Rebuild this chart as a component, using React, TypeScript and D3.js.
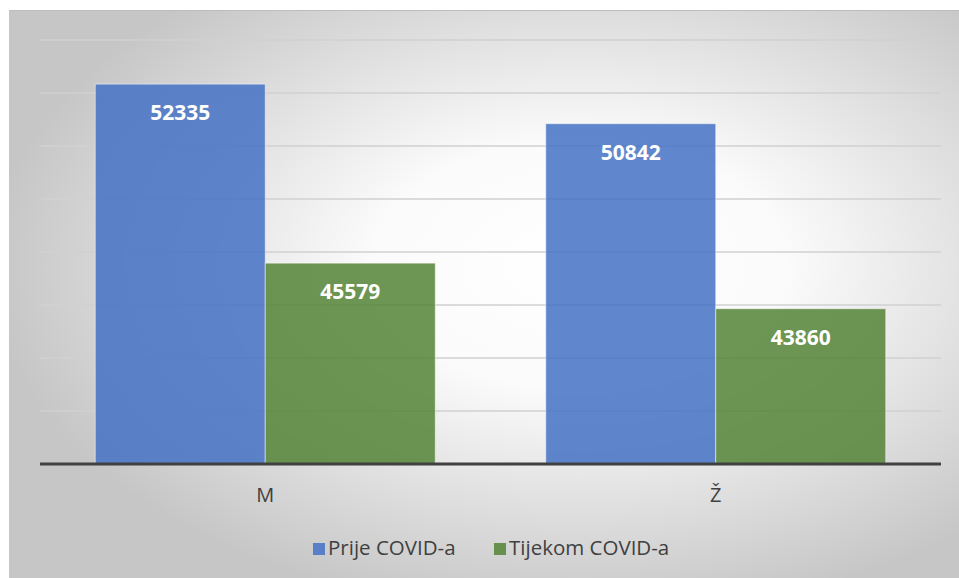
import React from "react";
import * as d3 from "d3";

const categories = ["M", "Ž"];
const seriesNames = ["Prije COVID-a", "Tijekom COVID-a"];
const prije = [52335, 50842];
const tijekom = [45579, 43860];
const gridTicks = [38000, 40000, 42000, 44000, 46000, 48000, 50000, 52000, 54000];
const colors = ["#4472C4", "#548235"];

const W = 959;
const H = 578;

export default function App() {
  const left = 40, right = 941, top = 40, bottom = 464;
  const x0 = d3.scaleBand<string>().domain(categories).range([left, right]).paddingInner(0).paddingOuter(0);
  const x1 = d3.scaleBand<string>().domain(seriesNames).range([0, x0.bandwidth()]).paddingInner(0).paddingOuter(0.325);
  const y = d3.scaleLinear().domain([38000, 54000]).range([bottom, top]);
  const values = [prije, tijekom];
  const font = "'Open Sans', 'Noto Sans', sans-serif";

  return (
    <svg width={W} height={H} style={{ position: "absolute", left: 0, top: 0 }}>
      <defs>
        <radialGradient id="bg" cx="0.6" cy="0.45" r="0.62" fx="0.6" fy="0.45">
          <stop offset="0" stopColor="#ffffff" />
          <stop offset="0.35" stopColor="#fbfbfb" />
          <stop offset="1" stopColor="#c6c6c6" />
        </radialGradient>
      </defs>
      <rect x={9} y={10} width={W - 9} height={H - 10} fill="url(#bg)" />
      <line x1={9} x2={W} y1={10.5} y2={10.5} stroke="#bdbdbd" strokeWidth={1} />
      {gridTicks.slice(1).map((t) => (
        <line key={t} x1={left} x2={right} y1={y(t)} y2={y(t)} stroke="#d0d0d0" strokeWidth={1.5} />
      ))}
      {categories.map((c, ci) => (
        <g key={c}>
          {seriesNames.map((s, si) => {
            const v = values[si][ci];
            const bx = (x0(c) as number) + (x1(s) as number);
            return (
              <g key={s}>
                <rect
                  x={bx}
                  y={y(v)}
                  width={x1.bandwidth()}
                  height={bottom - y(v)}
                  fill={colors[si]}
                  fillOpacity={0.85}
                  stroke="#ffffff"
                  strokeOpacity={0.5}
                  strokeWidth={1}
                />
                <text
                  x={bx + x1.bandwidth() / 2}
                  y={y(v) + 36}
                  textAnchor="middle"
                  fill="#ffffff"
                  fontFamily={font}
                  fontWeight={700}
                  fontSize={21}
                >
                  {v}
                </text>
              </g>
            );
          })}
          <text
            x={(x0(c) as number) + x0.bandwidth() / 2}
            y={502}
            textAnchor="middle"
            fill="#404040"
            fontFamily={font}
            fontSize={20}
          >
            {c}
          </text>
        </g>
      ))}
      <line x1={left} x2={right} y1={bottom} y2={bottom} stroke="#404040" strokeWidth={3} />
      {seriesNames.map((s, si) => {
        const lx = [313, 494][si];
        return (
          <g key={s}>
            <rect x={lx} y={543} width={12} height={12} fill={colors[si]} fillOpacity={0.85} />
            <text x={lx + 15} y={555} fill="#404040" fontFamily={font} fontSize={20.5}>
              {s}
            </text>
          </g>
        );
      })}
    </svg>
  );
}
